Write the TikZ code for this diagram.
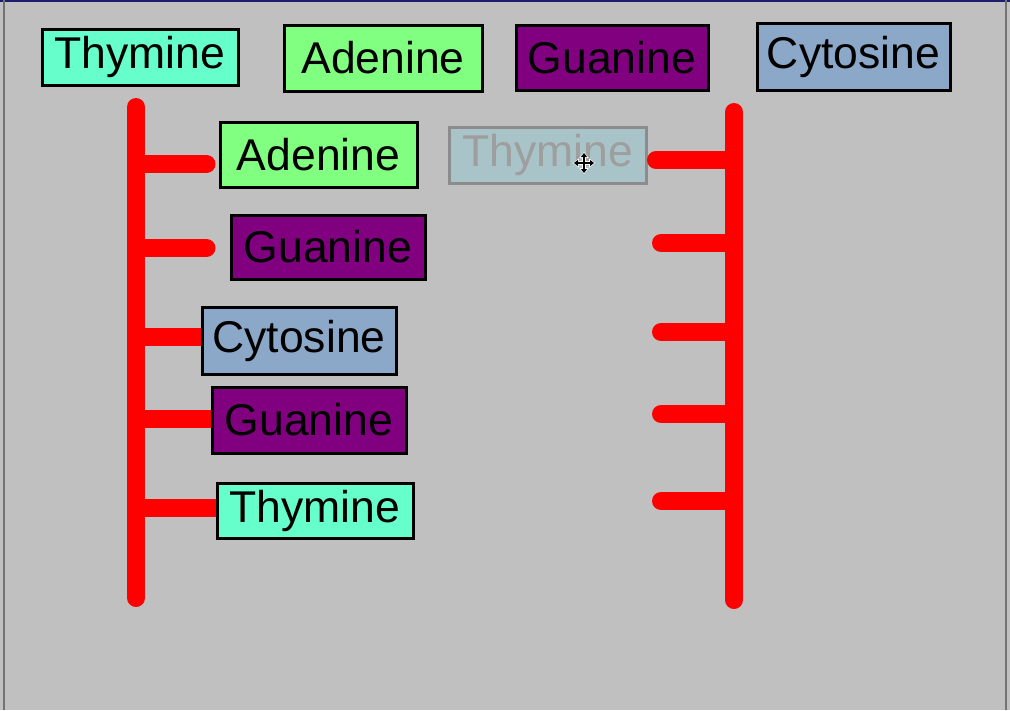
\documentclass[tikz,border=0pt]{standalone}
\usepackage{fontspec}
\setmainfont{Liberation Sans}
\usetikzlibrary{arrows.meta}
\definecolor{thycol}{RGB}{102,255,204}
\definecolor{adecol}{RGB}{128,255,128}
\definecolor{guacol}{RGB}{128,0,128}
\definecolor{cytcol}{RGB}{140,168,200}
\definecolor{fadecol}{RGB}{168,196,200}
\definecolor{screencol}{RGB}{192,192,192}
\definecolor{framecol}{RGB}{30,30,110}
\tikzset{
  base/.style={draw=black, line width=3pt, inner sep=0pt, text=black,
    font=\fontsize{44.5}{48}\selectfont},
  strand/.style={red, line width=18pt, line cap=round},
  rung/.style={red, line width=18pt, line cap=round},
}
\begin{document}
\begin{tikzpicture}[x=1pt,y=-1pt]
  \fill[screencol] (0,0) rectangle (1010,710);
  \useasboundingbox (0,0) rectangle (1010,710);
  \draw[line width=2pt, framecol] (0,1) -- (1010,1);
  \draw[line width=1.5pt, black!55] (4,0) -- (4,710);
  \draw[line width=1.5pt, black!55] (1006,0) -- (1006,710);

  \node[base, fill=thycol, minimum width=196pt, minimum height=56pt] (thytop) at (140,57) {Thymine};
  \node[base, fill=adecol, minimum width=198pt, minimum height=66pt] (adetop) at (383,58) {Adenine};
  \node[base, fill=guacol, minimum width=192pt, minimum height=65pt] (guatop) at (612,57.5) {Guanine};
  \node[base, fill=cytcol, minimum width=193pt, minimum height=67pt] (cyttop) at (853.5,56.5) {Cytosine};

  \coordinate (ltop) at (136,107);
  \coordinate (lbot) at (136,598);
  \coordinate (rtop) at (734,112);
  \coordinate (rbot) at (734,600);
  \draw[strand] (ltop) -- (lbot);
  \draw[strand] (rtop) -- (rbot);

  \node[base, fill=adecol, minimum width=197pt, minimum height=65pt] (adeL) at (318.5,154.5) {Adenine};
  \node[base, fill=guacol, minimum width=194pt, minimum height=64pt] (guaL) at (328,247) {Guanine};
  \node[base, fill=cytcol, minimum width=194pt, minimum height=67pt] (cytL) at (299,340.5) {Cytosine};
  \node[base, fill=guacol, minimum width=194pt, minimum height=66pt] (guaLb) at (309,420) {Guanine};
  \node[base, fill=thycol, minimum width=196pt, minimum height=55pt] (thyL) at (315,510.5) {Thymine};

  \node[base, draw=black!45, fill=fadecol, text=black!38, minimum width=197pt, minimum height=56pt] (thyfade) at (547.5,155) {Thymine};

  \coordinate (l1) at (136,164);
  \coordinate (l2) at (136,248);
  \coordinate (l3) at (136,337);
  \coordinate (l4) at (136,418.5);
  \coordinate (l5) at (136,508);
  \draw[rung, shorten >=12pt] (l1) -- (l1 -| adeL.west);
  \draw[rung, shorten >=23pt] (l2) -- (l2 -| guaL.west);
  \draw[rung, line cap=butt] (l3) -- (l3 -| cytL.west);
  \draw[rung, line cap=butt] (l4) -- (l4 -| guaLb.west);
  \draw[rung, line cap=butt] (l5) -- (l5 -| thyL.west);

  \coordinate (r1) at (734,160);
  \coordinate (r2) at (734,243);
  \coordinate (r3) at (734,332);
  \coordinate (r4) at (734,414);
  \coordinate (r5) at (734,501);
  \coordinate (r1e) at (656,160);
  \coordinate (r2e) at (661,243);
  \coordinate (r3e) at (661,332);
  \coordinate (r4e) at (661,414);
  \coordinate (r5e) at (661,501);
  \draw[rung] (r1) -- (r1e);
  \draw[rung] (r2) -- (r2e);
  \draw[rung] (r3) -- (r3e);
  \draw[rung] (r4) -- (r4e);
  \draw[rung] (r5) -- (r5e);

  \coordinate (cur) at (584,163);
  \draw[white, line width=3.5pt, {Triangle[length=6pt,width=9pt]}-{Triangle[length=6pt,width=9pt]}]
    ([xshift=-11pt]cur) -- ([xshift=11pt]cur);
  \draw[white, line width=3.5pt, {Triangle[length=6pt,width=9pt]}-{Triangle[length=6pt,width=9pt]}]
    ([yshift=-11pt]cur) -- ([yshift=11pt]cur);
  \draw[black, line width=1.5pt, {Triangle[length=4pt,width=6pt]}-{Triangle[length=4pt,width=6pt]}]
    ([xshift=-10pt]cur) -- ([xshift=10pt]cur);
  \draw[black, line width=1.5pt, {Triangle[length=4pt,width=6pt]}-{Triangle[length=4pt,width=6pt]}]
    ([yshift=-10pt]cur) -- ([yshift=10pt]cur);
\end{tikzpicture}
\end{document}
